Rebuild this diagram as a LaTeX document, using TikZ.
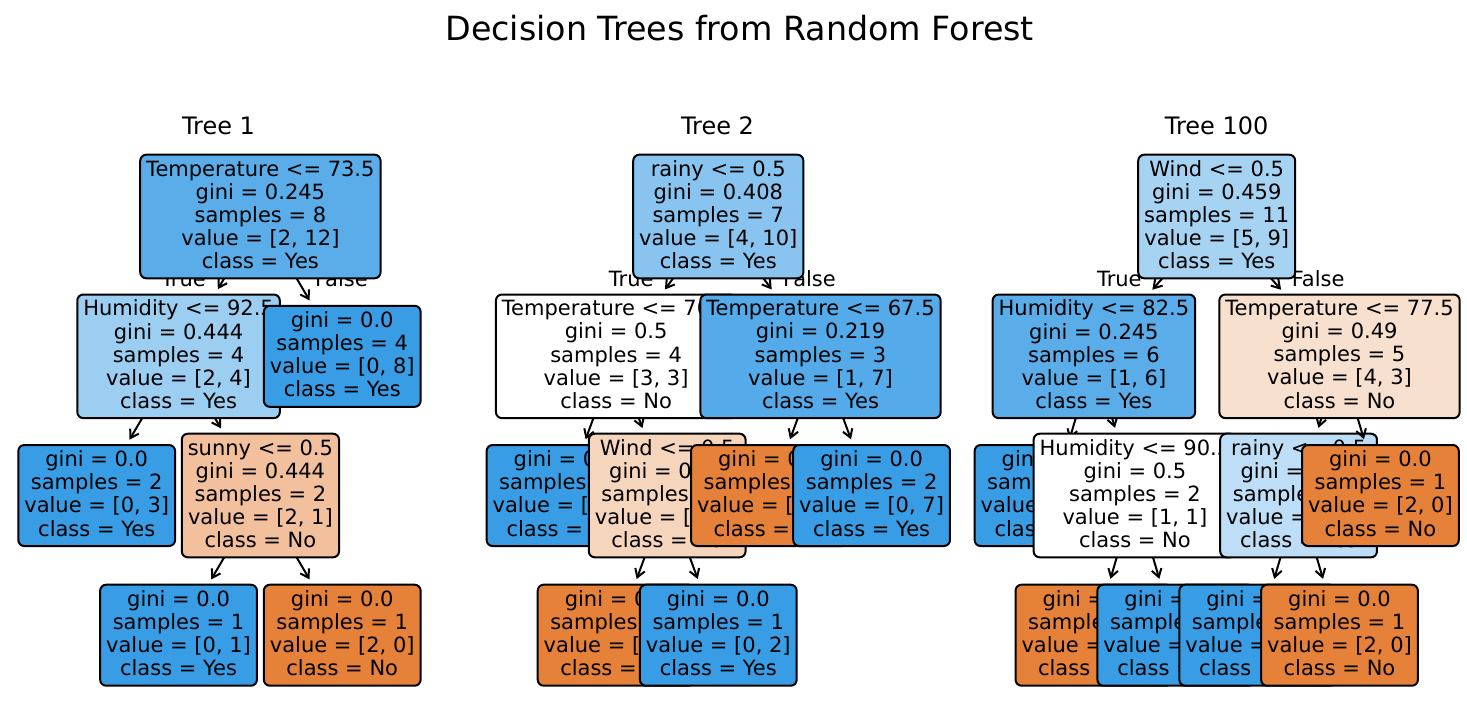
\documentclass[tikz,border=0pt]{standalone}
\usepackage{fontspec}
\setmainfont{DejaVu Sans}
\usetikzlibrary{arrows.meta,calc}
\pgfdeclarelayer{l3}\pgfdeclarelayer{l2}\pgfdeclarelayer{l1}\pgfdeclarelayer{l0}
\pgfsetlayers{main,l3,l2,l1,l0}
\definecolor{cblue}{RGB}{57,157,229}
\definecolor{corange}{RGB}{229,129,57}
\definecolor{cbA}{RGB}{90,173,233}
\definecolor{cbB}{RGB}{156,206,242}
\definecolor{cbC}{RGB}{136,196,239}
\definecolor{cbD}{RGB}{85,171,233}
\definecolor{cbE}{RGB}{167,211,243}
\definecolor{cbF}{RGB}{189,222,246}
\definecolor{coA}{RGB}{242,192,156}
\definecolor{coB}{RGB}{246,213,189}
\definecolor{coC}{RGB}{248,224,206}
\newcommand\nodefont{\fontsize{10.5}{11.55}\selectfont}
\newcommand\lpstrut{\rule[-0.2em]{0pt}{0.94em}}
\tikzset{
  tnode/.style={draw=black, line width=1pt, rounded corners=3pt, align=center,
    inner xsep=3pt, inner ysep=0pt, font=\nodefont,
    execute at begin node=\lpstrut, execute at end node=\lpstrut},
  split/.style={tnode, minimum height=61.8pt},
  leaf/.style={tnode, minimum height=50.5pt},
  conn/.style={line width=1pt, line join=miter, -{Straight Barb[length=4pt,width=5pt]}, shorten >=2.5pt},
  lbl/.style={font=\nodefont, inner sep=0pt},
  ttl/.style={font=\fontsize{12}{14}\selectfont, inner sep=0pt, anchor=base},
}
\begin{document}
\begin{tikzpicture}[x=0.5pt,y=-0.5pt]
\useasboundingbox (0,0) rectangle (1467,720);
\fill[white] (0,0) rectangle (1467,720);
\node[anchor=base, inner sep=0pt, font=\fontsize{16.65}{19}\selectfont] (title) at (739.7,40) {Decision Trees from Random Forest};
\node[ttl] (tt1) at (218.5,134) {Tree 1};
\node[ttl] (tt2) at (717.5,134) {Tree 2};
\node[ttl] (tt3) at (1216.7,134) {Tree 100};

% ---------------- Tree 1 ----------------
\begin{pgfonlayer}{l0}
\node[split, fill=cbA] (a) at (260.4,216.5) {Temperature <= 73.5\\gini = 0.245\\samples = 8\\value = [2, 12]\\class = Yes};
\end{pgfonlayer}
\begin{pgfonlayer}{l1}
\node[split, fill=cbB] (aL) at (178.55,356.3) {Humidity <= 92.5\\gini = 0.444\\samples = 4\\value = [2, 4]\\class = Yes};
\draw[conn] (a.center) -- (aL);
\node[leaf, fill=cblue] (aR) at (342.25,356.3) {gini = 0.0\\samples = 4\\value = [0, 8]\\class = Yes};
\draw[conn] (a.center) -- (aR);
\end{pgfonlayer}
\begin{pgfonlayer}{l2}
\node[leaf, fill=cblue] (aLL) at (96.7,495.5) {gini = 0.0\\samples = 2\\value = [0, 3]\\class = Yes};
\draw[conn] (aL.center) -- (aLL);
\node[split, fill=coA] (aLR) at (260.4,495.5) {sunny <= 0.5\\gini = 0.444\\samples = 2\\value = [2, 1]\\class = No};
\draw[conn] (aL.center) -- (aLR);
\end{pgfonlayer}
\begin{pgfonlayer}{l3}
\node[leaf, fill=cblue] (aLRL) at (178.55,635.2) {gini = 0.0\\samples = 1\\value = [0, 1]\\class = Yes};
\draw[conn] (aLR.center) -- (aLRL);
\node[leaf, fill=corange] (aLRR) at (342.25,635.2) {gini = 0.0\\samples = 1\\value = [2, 0]\\class = No};
\draw[conn] (aLR.center) -- (aLRR);
\end{pgfonlayer}
\node[lbl, anchor=base east] (aT) at ($(a.center)!0.5!(aL.center)+(-13.3,0)$) {True};
\node[lbl, anchor=base west] (aF) at ($(a.center)!0.5!(aR.center)+(13.3,0)$) {False};

% ---------------- Tree 2 ----------------
\begin{pgfonlayer}{l0}
\node[split, fill=cbC] (b) at (718.3,216.5) {rainy <= 0.5\\gini = 0.408\\samples = 7\\value = [4, 10]\\class = Yes};
\end{pgfonlayer}
\begin{pgfonlayer}{l1}
\node[split, fill=white] (bL) at (616.1,356.3) {Temperature <= 70.5\\gini = 0.5\\samples = 4\\value = [3, 3]\\class = No};
\draw[conn] (b.center) -- (bL);
\end{pgfonlayer}
\begin{pgfonlayer}{l2}
\node[leaf, fill=cblue] (bLL) at (565,495.5) {gini = 0.0\\samples = 1\\value = [0, 1]\\class = Yes};
\draw[conn] (bL.center) -- (bLL);
\node[split, fill=coB] (bLR) at (667.2,495.5) {Wind <= 0.5\\gini = 0.48\\samples = 3\\value = [3, 2]\\class = No};
\draw[conn] (bL.center) -- (bLR);
\end{pgfonlayer}
\begin{pgfonlayer}{l3}
\node[leaf, fill=corange] (bLRL) at (616.1,635.2) {gini = 0.0\\samples = 2\\value = [3, 0]\\class = No};
\draw[conn] (bLR.center) -- (bLRL);
\node[leaf, fill=cblue] (bLRR) at (718.3,635.2) {gini = 0.0\\samples = 1\\value = [0, 2]\\class = Yes};
\draw[conn] (bLR.center) -- (bLRR);
\end{pgfonlayer}
\begin{pgfonlayer}{l1}
\node[split, fill=cbD] (bR) at (820.5,356.3) {Temperature <= 67.5\\gini = 0.219\\samples = 3\\value = [1, 7]\\class = Yes};
\draw[conn] (b.center) -- (bR);
\end{pgfonlayer}
\begin{pgfonlayer}{l2}
\node[leaf, fill=corange] (bRL) at (769.4,495.5) {gini = 0.0\\samples = 1\\value = [1, 0]\\class = No};
\draw[conn] (bR.center) -- (bRL);
\node[leaf, fill=cblue] (bRR) at (871.6,495.5) {gini = 0.0\\samples = 2\\value = [0, 7]\\class = Yes};
\draw[conn] (bR.center) -- (bRR);
\end{pgfonlayer}
\node[lbl, anchor=base east] (bT) at ($(b.center)!0.5!(bL.center)+(-13.3,0)$) {True};
\node[lbl, anchor=base west] (bF) at ($(b.center)!0.5!(bR.center)+(13.3,0)$) {False};

% ---------------- Tree 100 ----------------
\begin{pgfonlayer}{l0}
\node[split, fill=cbE] (c) at (1216.7,216.5) {Wind <= 0.5\\gini = 0.459\\samples = 11\\value = [5, 9]\\class = Yes};
\end{pgfonlayer}
\begin{pgfonlayer}{l1}
\node[split, fill=cbA] (cL) at (1093.9,356.3) {Humidity <= 82.5\\gini = 0.245\\samples = 6\\value = [1, 6]\\class = Yes};
\draw[conn] (c.center) -- (cL);
\end{pgfonlayer}
\begin{pgfonlayer}{l2}
\node[leaf, fill=cblue] (cLL) at (1053,495.5) {gini = 0.0\\samples = 4\\value = [0, 5]\\class = Yes};
\draw[conn] (cL.center) -- (cLL);
\node[split, fill=white] (cLR) at (1134.9,495.5) {Humidity <= 90.5\\gini = 0.5\\samples = 2\\value = [1, 1]\\class = No};
\draw[conn] (cL.center) -- (cLR);
\end{pgfonlayer}
\begin{pgfonlayer}{l3}
\node[leaf, fill=corange] (cLRL) at (1093.9,635.2) {gini = 0.0\\samples = 1\\value = [1, 0]\\class = No};
\draw[conn] (cLR.center) -- (cLRL);
\node[leaf, fill=cblue] (cLRR) at (1175.8,635.2) {gini = 0.0\\samples = 1\\value = [0, 1]\\class = Yes};
\draw[conn] (cLR.center) -- (cLRR);
\end{pgfonlayer}
\begin{pgfonlayer}{l1}
\node[split, fill=coC] (cR) at (1339.5,356.3) {Temperature <= 77.5\\gini = 0.49\\samples = 5\\value = [4, 3]\\class = No};
\draw[conn] (c.center) -- (cR);
\end{pgfonlayer}
\begin{pgfonlayer}{l2}
\node[split, fill=cbF] (cRL) at (1298.6,495.5) {rainy <= 0.5\\gini = 0.48\\samples = 4\\value = [2, 3]\\class = Yes};
\draw[conn] (cR.center) -- (cRL);
\end{pgfonlayer}
\begin{pgfonlayer}{l3}
\node[leaf, fill=cblue] (cRLL) at (1257.7,635.2) {gini = 0.0\\samples = 3\\value = [0, 3]\\class = Yes};
\draw[conn] (cRL.center) -- (cRLL);
\node[leaf, fill=corange] (cRLR) at (1339.5,635.2) {gini = 0.0\\samples = 1\\value = [2, 0]\\class = No};
\draw[conn] (cRL.center) -- (cRLR);
\end{pgfonlayer}
\begin{pgfonlayer}{l2}
\node[leaf, fill=corange] (cRR) at (1380.4,495.5) {gini = 0.0\\samples = 1\\value = [2, 0]\\class = No};
\draw[conn] (cR.center) -- (cRR);
\end{pgfonlayer}
\node[lbl, anchor=base east] (cT) at ($(c.center)!0.5!(cL.center)+(-13.3,0)$) {True};
\node[lbl, anchor=base west] (cF) at ($(c.center)!0.5!(cR.center)+(13.3,0)$) {False};
\end{tikzpicture}
\end{document}
